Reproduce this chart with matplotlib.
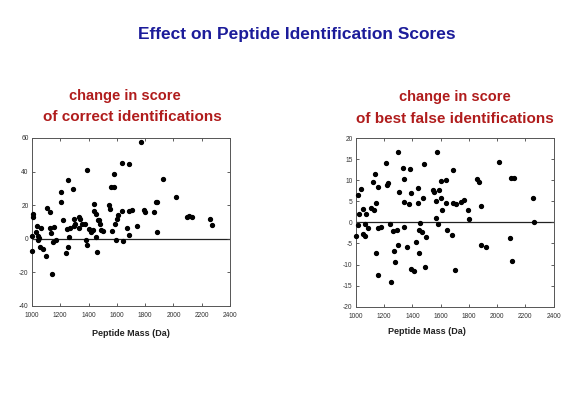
import matplotlib
matplotlib.use("Agg")
import matplotlib.pyplot as plt

# Left panel: change in score of correct identifications
correct_mass = [1000, 1002, 1007, 1005, 1036, 1026, 1045, 1045, 1047, 1062, 1057, 1076, 1097,
                1109, 1126, 1128, 1135, 1149, 1156, 1168, 1145, 1208, 1208, 1220, 1239, 1244,
                1258, 1256, 1265, 1270, 1289, 1298, 1294, 1303, 1329, 1338, 1334, 1353, 1377,
                1386, 1384, 1391, 1405, 1417, 1431, 1438, 1436, 1455, 1450, 1457, 1464, 1474,
                1483, 1488, 1500, 1545, 1550, 1564, 1561, 1578, 1578, 1590, 1597, 1604, 1607,
                1637, 1637, 1644, 1675, 1685, 1685, 1685, 1706, 1744, 1770, 1789, 1796, 1862,
                1874, 1886, 1886, 1926, 2016, 2099, 2111, 2128, 2256, 2270]
correct_delta = [-7, 1.6, 14.6, 12.8, 7.8, 4.2, 1.6, -0.6, 0.4, 6.2, -4.6, -6, -10,
                 18.6, 16, 6.6, 3.4, -2.2, 7, -0.6, -21, 27.6, 22, 11.4, -8.2, 6,
                 34.8, -5, 1, 6.4, 29.8, 12, 7.8, 9, 13.2, 11.8, 6.4, 8.8, 8.8,
                 41, -1, -3.6, 5.8, 4, 5.4, 21, 16.8, 14.6, 1, -7.6, 11, 11,
                 9, 5.4, 4.4, 20.4, 18, 4.6, 31, 31, 38.6, 9, -1, 11.8, 14.4,
                 45.2, 16.4, -1.2, 6.4, 44.8, 2.2, 16.8, 17, 7.8, 57.6, 17.2, 16.2, 16.2,
                 21.8, 21.6, 4.2, 35.8, 24.8, 13, 13.4, 13.2, 12, 8.2]

# Right panel: change in score of best false identifications
false_mass = [1002, 1012, 1012, 1021, 1033, 1047, 1051, 1061, 1061, 1070, 1084, 1105, 1117,
              1129, 1133, 1143, 1143, 1157, 1157, 1154, 1176, 1215, 1222, 1229, 1243, 1248,
              1262, 1271, 1278, 1290, 1295, 1302, 1300, 1330, 1339, 1342, 1342, 1358, 1379,
              1386, 1393, 1393, 1414, 1424, 1438, 1438, 1447, 1449, 1456, 1468, 1478, 1485,
              1487, 1499, 1545, 1550, 1564, 1567, 1576, 1578, 1590, 1599, 1601, 1609, 1639,
              1639, 1646, 1677, 1686, 1688, 1700, 1707, 1747, 1766, 1791, 1798, 1859, 1869,
              1883, 1885, 1922, 2011, 2093, 2098, 2119, 2107, 2252, 2264]
false_delta = [-3.2, 6.5, -0.7, 1.9, 8, 3.1, -2.7, -3.2, -0.4, 1.9, -1.4, 3.5, 9.6,
               3, 11.5, 4.6, -7.3, 8.4, -1.3, -12.4, -1.1, 14, 8.9, 9.3, -0.4, -14.1,
               -2, -6.9, -9.5, -1.7, 16.6, 7.3, -5.3, 13, 10.2, 4.8, -1, -5.9, 4.3,
               12.6, 6.9, -11, -11.5, -4.6, 8.1, 4.6, -1.9, -7.3, -0.1, -2.2, 5.7, 13.8,
               -10.7, -3.4, 7.6, 7.3, 5, 1.1, 16.6, -0.4, 7.7, 5.8, 9.9, 3, 10,
               4.6, -1.7, -2.9, 12.4, 4.6, -11.4, 4.4, 4.9, 5.3, 3, 0.9, 10.2, 9.5,
               3.8, -5.4, -5.8, 14.3, -3.8, 10.5, 10.5, -9.2, 5.7, 0]

x_ticks = [1000, 1200, 1400, 1600, 1800, 2000, 2200, 2400]
left_yticks = [-40, -20, 0, 20, 40, 60]
right_yticks = [-20, -15, -10, -5, 0, 5, 10, 15, 20]

title_text = "Effect on Peptide Identification Scores"
sub_left = ["change in score", "of correct identifications"]
sub_right = ["change in score", "of best false identifications"]
xlabel_text = "Peptide Mass (Da)"

plt.rcParams['font.family'] = ['Liberation Sans', 'DejaVu Sans']

fig = plt.figure(figsize=(5.66, 3.93), dpi=100)
fig.patch.set_facecolor('white')

blue = '#1c1c9a'
red = '#b01c1c'

fig.text(0.525, 0.911, title_text, ha='center', va='center', fontsize=12.5,
         fontweight='bold', color=blue)

fig.text(0.221, 0.756, sub_left[0], ha='center', va='center', fontsize=10.5,
         fontweight='bold', color=red)
fig.text(0.233, 0.702, sub_left[1], ha='center', va='center', fontsize=11,
         fontweight='bold', color=red)
fig.text(0.803, 0.753, sub_right[0], ha='center', va='center', fontsize=10.5,
         fontweight='bold', color=red)
fig.text(0.804, 0.697, sub_right[1], ha='center', va='center', fontsize=11,
         fontweight='bold', color=red)


def style(ax, yticks, ylim):
    ax.set_xlim(1000, 2400)
    ax.set_ylim(*ylim)
    ax.set_xticks(x_ticks)
    ax.set_yticks(yticks)
    ax.set_xticklabels([str(t) for t in x_ticks])
    ax.set_yticklabels([str(t) for t in yticks])
    ax.tick_params(direction='in', length=2.5, width=0.6, labelsize=4.8,
                   top=True, right=True, colors='#444444', labelcolor='#333333')
    ax.tick_params(axis='x', pad=4.5)
    ax.tick_params(axis='y', pad=2.5)
    for s in ax.spines.values():
        s.set_color('#555555')
        s.set_linewidth(0.7)
    ax.axhline(0, color='#222222', linewidth=0.9, zorder=1)


ax1 = fig.add_axes([0.0565, 0.2214, 0.350, 0.4275])
ax1.plot(correct_mass, correct_delta, 'o', color='black', markersize=2.8, zorder=3,
         clip_on=False)
style(ax1, left_yticks, (-40, 60))

ax2 = fig.add_axes([0.629, 0.2197, 0.349, 0.429])
ax2.plot(false_mass, false_delta, 'o', color='black', markersize=2.8, zorder=3,
         clip_on=False)
style(ax2, right_yticks, (-20, 20))

fig.text(0.231, 1 - 333 / 393, xlabel_text, ha='center', va='center', fontsize=6.5,
         fontweight='bold', color='#222222')
fig.text(0.754, 1 - 331 / 393, xlabel_text, ha='center', va='center', fontsize=6.5,
         fontweight='bold', color='#222222')

fig.savefig('out.png', dpi=100, facecolor='white')
